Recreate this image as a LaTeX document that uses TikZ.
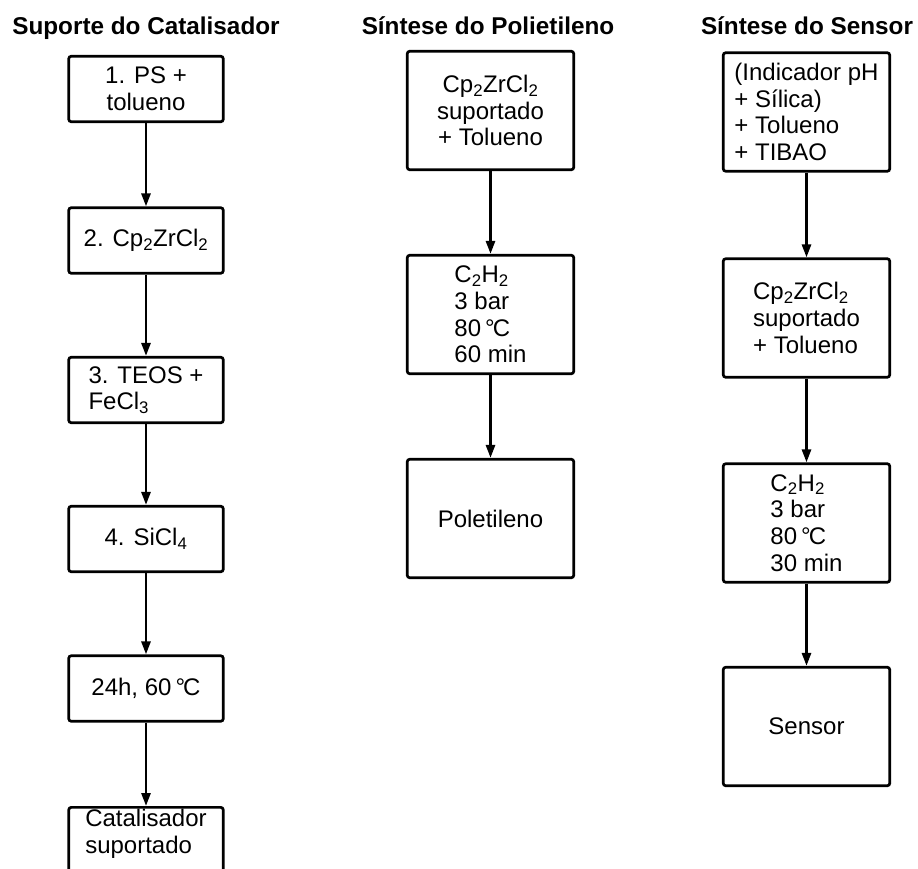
\documentclass[tikz,border=0pt]{standalone}
\usepackage{fontspec}
\setmainfont{Liberation Sans}
\usepackage{tikz}
\usetikzlibrary{positioning,arrows.meta}

\tikzset{
  passo/.style={draw, line width=2.7pt, rounded corners=2.5pt, inner sep=0pt,
    font=\fontsize{24}{26.7}\selectfont},
  passoA/.style={passo, minimum width=154.5pt, minimum height=65.5pt},
  passoB/.style={passo, minimum width=166.5pt, minimum height=118.5pt},
  titulo/.style={font=\fontsize{24.3}{28}\selectfont\bfseries, inner sep=0pt, anchor=base},
  seta/.style={line width=2.7pt, -{Triangle[length=13pt, width=9pt]}}
}
\newcommand{\gc}{\,°\kern-0.08em C}

\begin{document}
\begin{tikzpicture}[x=1pt, y=-1pt]
    \useasboundingbox (0,0) rectangle (918,869);

    % titulos
    \node[titulo] (t1) at (146,35) {Suporte do Catalisador};
    \node[titulo] (t2) at (488,35) {Síntese do Polietileno};
    \node[titulo] (t3) at (807,35) {Síntese do Sensor};

    % Suporte do Catalisador
    \node[passoA, align=center] (a1) at (146,89) {1. PS +\\tolueno};
    \node[passoA] (a2) at (146,240.5) {2. Cp\textsubscript{2}ZrCl\textsubscript{2}};
    \node[passoA, align=left] (a3) at (146,390) {3. TEOS +\\FeCl\textsubscript{3}};
    \node[passoA] (a4) at (146,539) {4. SiCl\textsubscript{4}};
    \node[passoA] (a5) at (146,688.5) {24h, 60\gc};
    \node[passoA, align=left, anchor=north] (a6) at (146,806) {\rule{0pt}{19pt}Catalisador\\suportado\\[8pt]};

    \draw[seta] (a1) -- (a2);
    \draw[seta] (a2) -- (a3);
    \draw[seta] (a3) -- (a4);
    \draw[seta] (a4) -- (a5);
    \draw[seta] (a5) -- (a6);

    % Sintese do Polietileno
    \node[passoB, align=center] (b1) at (490.5,110.5) {Cp\textsubscript{2}ZrCl\textsubscript{2}\\suportado\\+ Tolueno};
    \node[passoB, align=left] (b2) at (490.5,314.5) {C\textsubscript{2}H\textsubscript{2}\\3 bar\\80\gc\\60 min};
    \node[passoB] (b3) at (490.5,518.5) {Poletileno};

    \draw[seta] (b1) -- (b2);
    \draw[seta] (b2) -- (b3);

    % Sintese do Sensor
    \node[passoB, align=left] (c1) at (806.5,112) {(Indicador pH\\+ Sílica)\\+ Tolueno\\+ TIBAO};
    \node[passoB, align=left] (c2) at (806.5,318) {Cp\textsubscript{2}ZrCl\textsubscript{2}\\suportado\\+ Tolueno};
    \node[passoB, align=left] (c3) at (806.5,523) {C\textsubscript{2}H\textsubscript{2}\\3 bar\\80\gc\\30 min};
    \node[passoB] (c4) at (806.5,726.5) {Sensor};

    \draw[seta] (c1) -- (c2);
    \draw[seta] (c2) -- (c3);
    \draw[seta] (c3) -- (c4);
\end{tikzpicture}
\end{document}
